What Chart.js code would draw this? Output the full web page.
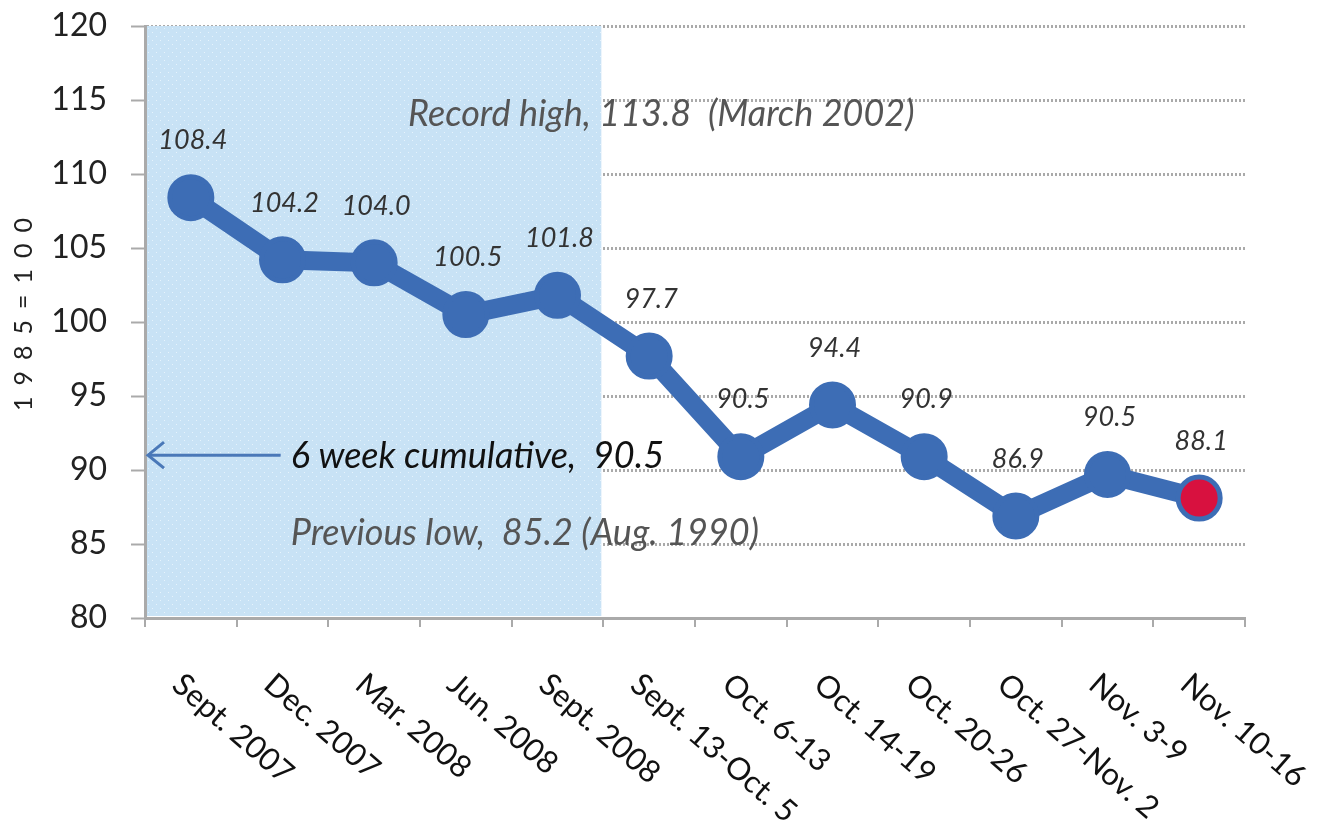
<!DOCTYPE html>
<html><head><meta charset="utf-8">
<script src="https://cdn.jsdelivr.net/npm/chart.js@4.4.0/dist/chart.umd.min.js"></script>
<style>html,body{margin:0;padding:0;background:#fff}#wrap{width:1321px;height:839px}</style>
</head><body><div id="wrap"><canvas id="c" width="1321" height="839"></canvas></div>
<script>
const categories = ["Sept. 2007","Dec. 2007","Mar. 2008","Jun. 2008","Sept. 2008","Sept. 13-Oct. 5","Oct. 6-13","Oct. 14-19","Oct. 20-26","Oct. 27-Nov. 2","Nov. 3-9","Nov. 10-16"];
const plottedValues = [108.4,104.2,104.0,100.5,101.8,97.7,90.9,94.4,90.9,86.9,89.7,88.1];
const pointLabels = ["108.4","104.2","104.0","100.5","101.8","97.7","90.5","94.4","90.9","86.9","90.5","88.1"];
const yTicks = [80,85,90,95,100,105,110,115,120];
const shadedCount = 5;
const yTitle = "1985=100";
const notes = [
  {text:"Record high, 113.8  (March 2002)", x:2.37, y:114.0, color:"#555", size:36},
  {text:"6 week cumulative,  90.5", x:1.09, y:90.95, color:"#111", size:36},
  {text:"Previous low,  85.2 (Aug. 1990)", x:1.09, y:85.75, color:"#555", size:36}
];
const FONT = "Lato";
const BLUE = "#3d6db5";
const RED = "#d8113f";

function makePattern(ctx){
  const p = document.createElement('canvas'); p.width=8; p.height=8;
  const g = p.getContext('2d');
  g.fillStyle="#c8e2f5"; g.fillRect(0,0,8,8);
  g.fillStyle="#e6f3fc"; g.fillRect(0,0,1,1); g.fillRect(4,4,1,1);
  return ctx.createPattern(p,'repeat');
}

const shadePlugin = {
  id:'shade',
  beforeDatasetsDraw(chart){
    const {ctx, chartArea:a, scales:{x}} = chart;
    const right = (x.getPixelForValue(shadedCount-1)+x.getPixelForValue(shadedCount))/2;
    ctx.save();
    ctx.fillStyle = makePattern(ctx);
    ctx.fillRect(a.left+2, a.top, right-a.left-4, a.bottom-a.top-2);
    ctx.restore();
  }
};

const labelPlugin = {
  id:'labels',
  afterDatasetsDraw(chart){
    const {ctx, chartArea:a, scales:{x,y}} = chart;
    const meta = chart.getDatasetMeta(0);
    ctx.save();
    ctx.font = "italic 27px " + FONT;
    ctx.fillStyle = "#333";
    ctx.textAlign = "center"; ctx.textBaseline = "middle";
    meta.data.forEach((pt,i)=>{
      ctx.fillText(pointLabels[i], pt.x+2, pt.y-57);
    });
    notes.forEach(n=>{
      ctx.font = "italic " + n.size + "px " + FONT;
      ctx.fillStyle = n.color;
      ctx.textAlign = "left";
      ctx.fillText(n.text, x.getPixelForValue(n.x), y.getPixelForValue(n.y));
    });
    const ay = y.getPixelForValue(91.0);
    const ax1 = x.getPixelForValue(0.98);
    const ax0 = a.left+3;
    ctx.strokeStyle = "#4a78b8"; ctx.lineWidth = 3;
    ctx.beginPath(); ctx.moveTo(ax1, ay); ctx.lineTo(ax0, ay); ctx.stroke();
    ctx.beginPath(); ctx.moveTo(ax0+16, ay-13); ctx.lineTo(ax0, ay); ctx.lineTo(ax0+16, ay+13); ctx.stroke();
    ctx.font = "31px " + FONT;
    ctx.fillStyle = "#111";
    ctx.textAlign = "left"; ctx.textBaseline = "middle";
    categories.forEach((c,i)=>{
      const px = x.getPixelForValue(i);
      ctx.save();
      ctx.translate(px-14, a.bottom+62);
      ctx.rotate(41*Math.PI/180);
      ctx.fillText(c, 0, 0);
      ctx.restore();
    });
    ctx.save();
    ctx.font = "25px " + FONT;
    ctx.fillStyle = "#222";
    ctx.letterSpacing = "11px";
    ctx.textAlign = "center"; ctx.textBaseline = "middle";
    ctx.translate(24, 314);
    ctx.rotate(-Math.PI/2);
    ctx.fillText(yTitle, 5, 0);
    ctx.restore();
    ctx.restore();
  }
};

new Chart(document.getElementById('c'), {
  type:'line',
  data:{
    labels: categories,
    datasets:[{
      data: plottedValues,
      borderColor: BLUE,
      borderWidth: 19,
      pointRadius: 21,
      pointBorderWidth: 5,
      pointBackgroundColor: plottedValues.map((v,i)=> i===plottedValues.length-1 ? RED : BLUE),
      pointBorderColor: BLUE,
      tension: 0
    }]
  },
  options:{
    responsive:false,
    animation:false,
    devicePixelRatio:1,
    layout:{padding:{top:25,right:76,left:0,bottom:0}},
    plugins:{legend:{display:false}, tooltip:{enabled:false}},
    scales:{
      x:{
        offset:true,
        grid:{display:true, drawOnChartArea:false, drawTicks:true, tickLength:9, color:"#aaa", lineWidth:2, offset:true},
        border:{display:true, color:"#aaa", width:3, dash:[2,2]},
        ticks:{display:false},
        afterFit(s){ s.height = 221; s.paddingLeft = 0; s.paddingRight = 0; }
      },
      y:{
        min:80, max:120,
        afterBuildTicks(s){ s.ticks = yTicks.map(v=>({value:v})); },
        grid:{color:"#aaaaaa", lineWidth:3, tickLength:14, tickColor:"#aaa", tickWidth:2},
        border:{display:true, color:"#aaa", width:3, dash:[2,2]},
        ticks:{font:{family:FONT, size:32}, color:"#222", padding:24},
        afterFit(s){ s.width = 145; s.paddingTop = 0; s.paddingBottom = 0; }
      }
    }
  },
  plugins:[shadePlugin, labelPlugin]
});
</script>
</body></html>
